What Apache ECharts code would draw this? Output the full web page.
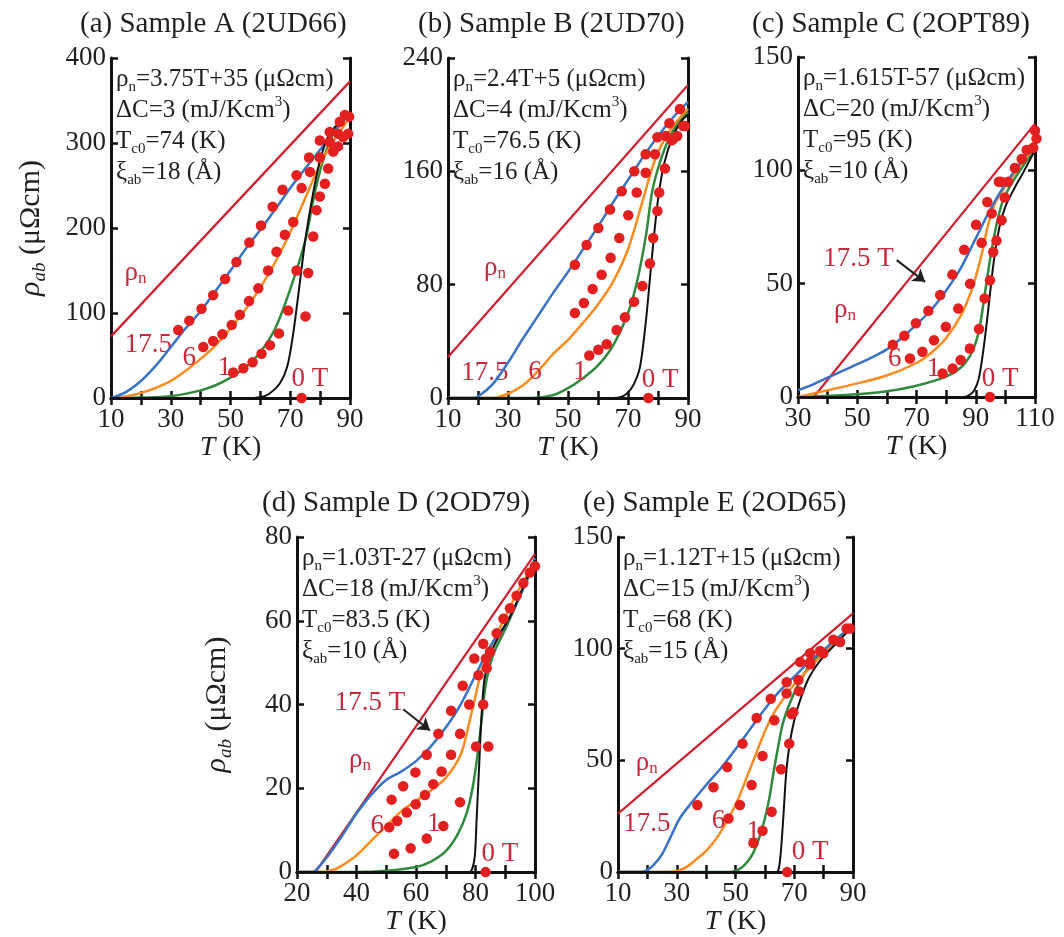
<!DOCTYPE html>
<html>
<head>
<meta charset="utf-8">
<script src="https://cdn.jsdelivr.net/npm/echarts@6/dist/echarts.min.js"></script>
<style>
html, body { margin: 0; background: #fff; }
#chart { width: 1064px; height: 937px; }
</style>
</head>
<body>
<div id="chart"></div>
<script>
// ---- data, [T (K), rho (uOhm cm)] ----
// Sample A
var A_rho = [[10, 72.5], [90, 372.5]];
var A_f175 = [[10,0],[15,7],[20,20],[25,38],[30,60],[35,82],[40,102],[45,126],[50,150],[55,175],[60,198],[65,222],[70,247],[75,270],[80,292],[85,314],[90,336]];
var A_f6 = [[10,0],[15,2],[20,6],[25,12],[30,20],[35,32],[40,46],[45,62],[50,82],[55,104],[60,130],[65,160],[70,195],[75,235],[80,275],[85,305],[90,330]];
var A_f1 = [[10,0],[20,0.5],[30,2],[40,9],[45,15],[50,24],[55,36],[60,54],[65,82],[70,128],[75,185],[78,238],[81,280],[84,308],[87,325],[90,336]];
var A_f0 = [[10,0],[55,0],[60,1],[63,5],[66.5,17],[69,37],[71,76],[73,130],[75,185],[77.5,238],[80,280],[83,310],[87,326],[90,335]];
var A_d175 = [[32.5,80],[36.2,91],[40.3,105],[44.2,121],[48.2,140],[52,160],[56.3,183],[60.2,203],[64.1,225],[67.4,245],[72.1,262],[76.3,283],[79.9,303],[83.2,313],[86.6,325],[88.3,333]];
var A_d6 = [[40.9,60],[44.2,67],[47.3,75],[50.4,86],[53.1,98],[56.2,114],[59.3,129],[62.6,150],[65.4,172],[68.2,192],[71,207],[73.8,247],[76.6,266],[79.9,283],[83.2,301],[86,311],[89.7,331]];
var A_d1 = [[50.9,30],[54.3,35],[57.4,42],[60.4,52],[63.2,62],[66.2,76],[69.3,103],[72.1,150],[76,147],[77.7,190],[78.8,221],[79.9,237],[81.6,252],[82.7,270],[84.4,290],[86,296],[87.7,307],[89.4,311]];
var A_d0 = [[73.8,0],[75.1,96]];
// Sample B
var B_rho = [[10, 29], [90, 221]];
var B_f175 = [[10,0],[18,0],[20,1],[25,10],[30,25],[35,42],[40,58],[45,74],[50,89],[55,105],[60,121],[65,138],[70,154],[75,170],[80,185],[85,198],[90,209]];
var B_f6 = [[10,0],[25,0],[30,3],[35,9],[40,19],[45,31],[50,41],[55,53],[60,66],[65,82],[70,105],[75,140],[78,162],[81,178],[85,192],[90,204]];
var B_f1 = [[10,0],[38,0],[45,2],[50,7],[55,14],[60,23],[65,37],[70,60],[73,82],[76,115],[78,145],[80,162],[83,180],[86,192],[90,202]];
var B_f0 = [[10,0],[65,0],[68,1],[70,4],[72,10],[74,22],[76,55],[78,100],[80,140],[82,165],[85,185],[88,196],[90,200]];
var B_d175 = [[52.3,94],[56.2,108],[60.1,120],[64,133],[67.9,146],[72.1,160],[75.9,172],[79.8,184],[83.8,194],[87.3,204]];
var B_d6 = [[52.3,60],[55.3,67],[58.2,77],[61.2,87],[64.2,99],[67.1,113],[70.1,129],[72.9,145],[75.9,159],[79,172],[82.6,185],[85.1,183],[88.4,192]];
var B_d1 = [[57.1,30],[60.1,34],[62.9,38],[66.2,48],[69,57],[72,68],[74.8,79],[77.3,95],[78.4,113],[79.8,132],[80.4,145],[82.3,162],[84.6,182],[86.4,185],[89,192]];
var B_d0 = [[76.8,0]];
// Sample C
var C_rho = [[35.3, 0], [110, 120.6]];
var C_f175 = [[30,3],[35,5.5],[40,8.5],[45,11.5],[50,14.5],[55,17.5],[60,21],[65,26],[70,32],[75,38.5],[80,47],[85,57],[90,70],[95,83],[100,94],[105,103],[110,113]];
var C_f6 = [[30,0],[40,3],[50,6],[60,9.5],[70,15],[75,19.5],[80,26],[85,36],[88,45],[90,53],[92,63],[94,75],[96,84],[98,89],[100,93],[105,102],[110,111]];
var C_f1 = [[30,0],[40,0.5],[50,1.2],[60,2.5],[70,5],[80,9],[85,13],[88,18],[90,24],[91.5,32],[93,45],[95,62],[97,76],[99,86],[102,94],[106,102],[110,110]];
var C_f0 = [[30,0],[86,0],[88,1],[89.5,3],[91,8],[92.5,20],[94,36],[96,59],[98,75],[100,84],[103,92],[106,99],[110,109]];
var C_d175 = [[62,23],[65.9,27],[69.8,32.5],[74,38],[78,45],[82.1,54],[86.1,65],[90.1,76],[93.9,86],[97.8,95]];
var C_d6 = [[67.8,17],[72,20],[75.9,25],[79.9,31],[84.1,39],[88.1,50],[92,68],[95.4,81],[98.5,95]];
var C_d1 = [[78.8,10.4],[82.2,12.6],[84.9,16.3],[88,21.4],[91.1,30],[93,43.5],[94.8,51.5],[95.9,64],[97,69],[98.7,78],[99.8,88],[100.9,95],[103.2,101],[105.5,105],[107.2,109],[109.4,110],[110.5,114],[110,117.6]];
var C_d0 = [[94.8,0]];
// Sample D
var D_rho = [[26.2, 0], [100, 76]];
var D_f175 = [[20,0],[25,0],[27,1],[30,3.5],[35,8.5],[40,14],[45,18.5],[50,22],[55,24],[60,26.5],[65,30],[70,34.5],[75,40],[80,47],[85,54],[90,59],[95,66],[100,75]];
var D_f6 = [[20,0],[28,0],[32,0.5],[35,1.5],[40,4],[45,7.5],[50,11],[55,14.5],[60,17],[65,19.5],[70,22.5],[75,28],[78,36],[80,42],[82,48],[85,53.5],[90,61],[95,68],[100,74]];
var D_f1 = [[20,0],[40,0],[50,0.3],[60,1.2],[65,2.5],[70,5],[74,9],[77,14],[79,20],[80.5,27],[82,36],[83.5,45],[86,52],[90,58],[95,66],[100,74]];
var D_f0 = [[20,0],[78,0],[79,1],[79.8,4],[80.4,13],[81.2,25],[82,37],[83,46],[85,52],[88,56.5],[92,61.5],[96,68],[100,74.5]];
var D_d175 = [[51.8,17.3],[55.7,20.5],[59.8,23.8],[63.6,28],[67.5,33],[71.8,38.5],[75.7,44.5],[79.6,51],[82.6,54.5]];
var D_d6 = [[51,10.7],[53.7,12.2],[56.9,14.2],[59.9,16.2],[63,18.4],[65.8,21],[68.6,24],[71.8,28],[74.8,33],[77.9,40],[81,47],[83.5,51]];
var D_d1 = [[52.6,4.4],[58.2,5.7],[63.6,8],[69.2,11],[74.8,16.7],[80.2,30],[82.6,40],[83.8,48.7],[84.9,52.6],[87.1,57],[89.4,60.5],[91.6,63],[93.8,66],[96.1,69],[98.3,71.5],[100,73]];
var D_d0 = [[83.4,0],[84.3,30]];
// Sample E
var E_rho = [[10, 26.2], [90, 115.8]];
var E_f175 = [[10,0],[18,0],[20,1],[22,3],[25,8],[28,16],[31,24],[35,31],[40,39],[45,46.5],[50,55],[55,64],[60,73],[65,81],[70,87.5],[75,94],[80,99.5],[85,105],[90,110]];
var E_f6 = [[10,0],[27,0],[30,0.5],[33,2],[36,5],[40,9.5],[44,16],[48,25],[51,33],[54,43],[57,53],[60,63],[63,71],[66,77],[70,84],[75,91],[80,98],[85,104],[90,110]];
var E_f1 = [[10,0],[48,0],[50,0.5],[52,2],[54,4.5],[56,8.5],[58,15],[60,24],[61.5,33],[63,45],[64.5,56],[66,66],[68,74],[71,83],[75,92],[80,99],[85,105],[90,110]];
var E_f0 = [[10,0],[64,0],[64.8,2],[65.5,10],[66.3,25],[67.3,45],[68.5,58],[70,68],[72,77],[75,87],[79,95],[84,102],[90,110]];
var E_d175 = [[37,30],[42.5,38],[47.2,47],[52.4,57.5],[57.2,69],[62,77.6],[67.4,85],[72,94],[75.4,98],[83.3,104],[87.8,109]];
var E_d6 = [[47.6,24],[51.5,30],[55.5,39],[59.2,52],[63.2,68],[67.4,80],[71.4,86],[75.4,94],[78.8,99]];
var E_d1 = [[56.1,13],[59.2,18.5],[62.3,27],[65.5,46],[68.3,57.5],[69.1,70.7],[69.7,71.5],[71.6,81],[75.4,93],[79.9,98],[85.6,103],[89,109]];
var E_d0 = [[67.6,0]];

// axes
var xMin = [10, 10, 30, 20, 10];
var xMax = [90, 90, 110, 100, 90];
var yMax = [400, 240, 150, 80, 150];
var yStep = [100, 80, 50, 20, 50];

// texts
var titles = ['(a) Sample A (2UD66)', '(b) Sample B (2UD70)', '(c) Sample C (2OPT89)', '(d) Sample D (2OD79)', '(e) Sample E (2OD65)'];
var rhoFit = ['3.75T+35', '2.4T+5', '1.615T-57', '1.03T-27', '1.12T+15'];
var deltaC = ['3', '4', '20', '18', '15'];
var tc0 = ['74', '76.5', '95', '83.5', '68'];
var xiAb = ['18', '16', '10', '10', '15'];

// curve labels [T, rho, text]
var A_lab = [[18.2,147,'rho'],[22.5,62,'17.5'],[36.2,47,'6'],[48,35,'1'],[76.6,23,'0 T']];
var B_lab = [[25.7,91.5,'rho'],[22.3,17.4,'17.5'],[39,18.6,'6'],[54,18.6,'1'],[80.7,12.7,'0 T']];
var C_lab = [[50.4,61,'17.5 T'],[45.9,38.3,'rho'],[62.7,17,'6'],[75.7,12.6,'1'],[98.2,8.2,'0 T']];
var D_lab = [[44.5,40.5,'17.5 T'],[41.2,26.7,'rho'],[47,11,'6'],[66,11.5,'1'],[88.2,4.4,'0 T']];
var E_lab = [[19.8,48.7,'rho'],[19.8,21.5,'17.5'],[44.2,23,'6'],[56,17.8,'1'],[75.4,9,'0 T']];
var C_arrow = [[63.3,60.4],[72.9,50.8]];
var D_arrow = [[55.7,38.9],[64.7,33.8]];

var FONT = 'Liberation Serif';
var INK = '#231f20';
var RED = '#cf1f2e', DOT = '#e3201f', LAB = '#c62a3c';
var BLUE = '#3a72c6', ORANGE = '#ff8b1f', GREEN = '#2f8a3c', BLACK = '#111111';

var grids = [
	{left: 111, top: 58, width: 239, height: 340},
	{left: 448, top: 58, width: 240, height: 340},
	{left: 798, top: 57, width: 237, height: 340},
	{left: 297, top: 537, width: 238, height: 340},
	{left: 618, top: 537, width: 235, height: 340}
];
var titlePos = [[80, 10], [418, 10], [752, 10], [262, 489], [583, 489]];

var panels = [
	{rho: A_rho, f: [A_f1, A_f6, A_f175, A_f0], d: [A_d175, A_d6, A_d1, A_d0], lab: A_lab},
	{rho: B_rho, f: [B_f1, B_f6, B_f175, B_f0], d: [B_d175, B_d6, B_d1, B_d0], lab: B_lab},
	{rho: C_rho, f: [C_f1, C_f6, C_f175, C_f0], d: [C_d175, C_d6, C_d1, C_d0], lab: C_lab, arrow: C_arrow},
	{rho: D_rho, f: [D_f1, D_f6, D_f175, D_f0], d: [D_d175, D_d6, D_d1, D_d0], lab: D_lab, arrow: D_arrow},
	{rho: E_rho, f: [E_f1, E_f6, E_f175, E_f0], d: [E_d175, E_d6, E_d1, E_d0], lab: E_lab}
];
var fieldColors = [GREEN, ORANGE, BLUE, BLACK];

var subRich = {
	s: {fontFamily: FONT, fontSize: 15, lineHeight: 15, verticalAlign: 'bottom', color: INK},
	p: {fontFamily: FONT, fontSize: 15, lineHeight: 15, verticalAlign: 'top', color: INK}
};

var xAxes = [], yAxes = [], series = [], titleList = [];

grids.forEach(function (g, i) {
	var frame = {show: true, lineStyle: {color: BLACK, width: 3}};
	var tick = {show: true, inside: true, length: 7, lineStyle: {color: BLACK, width: 2.5}};
	xAxes.push({
		type: 'value', gridIndex: i, position: 'bottom', min: xMin[i], max: xMax[i], interval: 10,
		axisLine: frame, axisTick: tick, splitLine: {show: false},
		axisLabel: {
			fontFamily: FONT, fontSize: 27, color: INK, margin: 8,
			formatter: function (v) { return (v - xMin[i]) % 20 === 0 ? v : ''; }
		},
		name: '{i|T} (K)', nameLocation: 'middle', nameGap: 34,
		nameTextStyle: {fontFamily: FONT, fontSize: 28, color: INK, rich: {i: {fontFamily: FONT, fontSize: 28, fontStyle: 'italic', color: INK}}}
	});
	xAxes.push({
		type: 'value', gridIndex: i, position: 'top', min: xMin[i], max: xMax[i], interval: 10,
		axisLine: frame, axisTick: tick, axisLabel: {show: false}, splitLine: {show: false}
	});
	var ya = {
		type: 'value', gridIndex: i, position: 'left', min: 0, max: yMax[i], interval: yStep[i],
		axisLine: frame, axisTick: tick, splitLine: {show: false},
		axisLabel: {fontFamily: FONT, fontSize: 27, color: INK, margin: 5}
	};
	if (i === 0 || i === 3) {
		ya.name = '{i|ρ}{is|ab} (μΩcm)';
		ya.nameLocation = 'middle';
		ya.nameGap = 62;
		ya.nameTextStyle = {fontFamily: FONT, fontSize: 30, color: INK, lineHeight: 36, rich: {
			i: {fontFamily: FONT, fontSize: 30, fontStyle: 'italic', color: INK},
			is: {fontFamily: FONT, fontSize: 19, fontStyle: 'italic', lineHeight: 19, verticalAlign: 'bottom', color: INK}
		}};
	}
	yAxes.push(ya);
	yAxes.push({
		type: 'value', gridIndex: i, position: 'right', min: 0, max: yMax[i], interval: yStep[i],
		axisLine: frame, axisTick: tick, axisLabel: {show: false}, splitLine: {show: false}
	});

	var p = panels[i];
	var xi = 2 * i, yi = 2 * i;

	// rho_n line with the curve labels
	series.push({
		type: 'line', xAxisIndex: xi, yAxisIndex: yi, data: p.rho, symbol: 'none',
		lineStyle: {color: RED, width: 2.2}, z: 2,
		markPoint: {
			symbol: 'rect', symbolSize: 1, itemStyle: {color: 'rgba(0,0,0,0)'}, silent: true,
			label: {
				show: true, position: 'inside', formatter: '{b}', color: LAB, fontFamily: FONT, fontSize: 27,
				rich: {
					r: {fontFamily: FONT, fontSize: 27, color: LAB},
					n: {fontFamily: FONT, fontSize: 17, color: LAB, verticalAlign: 'bottom', lineHeight: 17}
				}
			},
			data: p.lab.map(function (l) {
				return {name: l[2] === 'rho' ? '{r|ρ}{n|n}' : l[2], coord: [l[0], l[1]]};
			})
		}
	});
	p.f.forEach(function (d, k) {
		var s = {
			type: 'line', xAxisIndex: xi, yAxisIndex: yi, data: d, symbol: 'none',
			smooth: 0.3,
			lineStyle: {color: fieldColors[k], width: k === 3 ? 2 : 2.5}, z: 3 + k
		};
		if (k === 2 && p.arrow) {
			s.markLine = {
				silent: true, symbol: ['none', 'arrow'], symbolSize: 12,
				lineStyle: {color: INK, width: 2, type: 'solid'}, label: {show: false},
				data: [[{coord: p.arrow[0]}, {coord: p.arrow[1]}]]
			};
		}
		series.push(s);
	});
	series.push({
		type: 'scatter', xAxisIndex: xi, yAxisIndex: yi, clip: false,
		data: [].concat(p.d[0], p.d[1], p.d[2], p.d[3]),
		symbolSize: 10.5, itemStyle: {color: DOT, opacity: 1}, z: 10
	});

	titleList.push({
		text: titles[i], left: titlePos[i][0], top: titlePos[i][1], padding: 0,
		textStyle: {fontFamily: FONT, fontSize: 29, fontWeight: 'normal', color: INK}
	});
	titleList.push({
		text: 'ρ{s|n}=' + rhoFit[i] + ' (μΩcm)\nΔC=' + deltaC[i] + ' (mJ/Kcm{p|3})\nT{s|c0}=' + tc0[i] + ' (K)\nξ{s|ab}=' + xiAb[i] + ' (Å)',
		left: g.left + 5, top: g.top + 6, padding: 0,
		textStyle: {fontFamily: FONT, fontSize: 25, fontWeight: 'normal', color: INK, lineHeight: 31, rich: subRich}
	});
});

var chart = echarts.init(document.getElementById('chart'));
chart.setOption({
	animation: false,
	backgroundColor: '#fff',
	title: titleList,
	grid: grids,
	xAxis: xAxes,
	yAxis: yAxes,
	series: series
});
</script>
</body>
</html>
